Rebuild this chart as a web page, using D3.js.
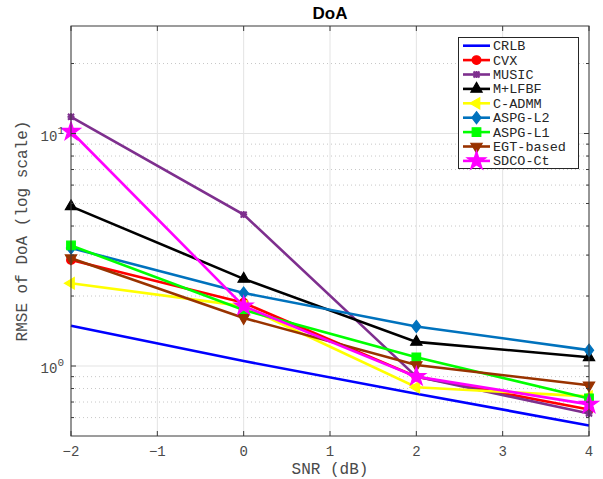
<!DOCTYPE html>
<html><head><meta charset="utf-8">
<script src="https://cdn.jsdelivr.net/npm/d3@7"></script>
<style>body{margin:0;background:#fff}svg{display:block}</style>
</head><body>
<div id="chart"></div>
<script>
const snr = [-2, 0, 2, 4];
const xTicks = [-2, -1, 0, 1, 2, 3, 4];
const yMajorTicks = [1, 10];
const seriesNames = ["CRLB","CVX","MUSIC","M+LFBF","C-ADMM","ASPG-L2","ASPG-L1","EGT-based","SDCO-Ct"];
const crlb   = [1.49, 1.05, 0.76, 0.555];
const cvx    = [2.86, 1.87, 0.90, 0.65];
const music  = [11.8, 4.48, 0.90, 0.625];
const mlfbf  = [4.86, 2.37, 1.27, 1.09];
const cadmm  = [2.27, 1.81, 0.81, 0.74];
const aspgL2 = [3.22, 2.06, 1.48, 1.17];
const aspgL1 = [3.30, 1.74, 1.09, 0.725];
const egt    = [2.91, 1.61, 1.01, 0.826];
const sdco   = [10.2, 1.81, 0.90, 0.684];
const seriesValues = [crlb, cvx, music, mlfbf, cadmm, aspgL2, aspgL1, egt, sdco];
const colors  = ["#0000ff","#ff0000","#7e2f8e","#000000","#ffff00","#0072bd","#00ff00","#993300","#ff00ff"];
const markers = ["none","circle","times","triUp","triLeft","diamond","square","triDown","star"];

const W = 603, H = 479;
const L = 71, R = 589, T = 26, B = 436;
const mono = "'Liberation Mono', 'DejaVu Sans Mono', monospace";
const svg = d3.select("#chart").append("svg").attr("width", W).attr("height", H);
const x = d3.scaleLinear().domain([-2, 4]).range([L, R]);
const y = d3.scaleLog().domain([0.5, 29]).range([B, T]);

// grid
const g = svg.append("g");
const minor = [];
[0.1, 1, 10].forEach(d => { for (let k = 2; k <= 9; k++) { const v = d * k; if (v > 0.5 && v < 29 && v !== 1 && v !== 10) minor.push(v); } });
g.selectAll(".mg").data(minor).join("line")
  .attr("x1", L).attr("x2", R).attr("y1", d => y(d)).attr("y2", d => y(d))
  .attr("stroke", "#c8c8c8").attr("stroke-width", 1).attr("stroke-dasharray", "1,3");
g.selectAll(".yg").data(yMajorTicks).join("line")
  .attr("x1", L).attr("x2", R).attr("y1", d => y(d)).attr("y2", d => y(d))
  .attr("stroke", "#e3e3e3").attr("stroke-width", 1);
g.selectAll(".xg").data(xTicks).join("line")
  .attr("x1", d => x(d)).attr("x2", d => x(d)).attr("y1", T).attr("y2", B)
  .attr("stroke", "#e3e3e3").attr("stroke-width", 1);

// markers
function markerPath(type) {
  const p = d3.path();
  if (type === "circle") { return d3.symbol(d3.symbolCircle, 60)(); }
  if (type === "star") { return d3.symbol(d3.symbolStar, 110)(); }
  if (type === "square") { return "M-4.3,-4.3H4.3V4.3H-4.3Z"; }
  if (type === "diamond") { return "M0,-6L4.6,0L0,6L-4.6,0Z"; }
  if (type === "times") { return "M-3,-3L3,3M-3,3L3,-3M0,-3.5V3.5M-3.5,0H3.5"; }
  const r = 6.5;
  let pts = [[0,-r],[r*0.866,r*0.5],[-r*0.866,r*0.5]];
  let ang = type === "triLeft" ? -Math.PI/2 : type === "triDown" ? Math.PI : 0;
  pts = pts.map(([a,b]) => [a*Math.cos(ang)-b*Math.sin(ang), a*Math.sin(ang)+b*Math.cos(ang)]);
  return "M" + pts.map(q => q.join(",")).join("L") + "Z";
}
function drawMarker(sel, type, color) {
  if (type === "none") return;
  sel.append("path").attr("d", markerPath(type))
    .attr("fill", type === "times" ? "none" : color)
    .attr("stroke", color).attr("stroke-width", type === "times" ? 2 : 1.2)
    .attr("stroke-linejoin", "miter");
}

const line = d3.line().x((d, i) => x(snr[i])).y(d => y(d));
const plot = svg.append("g");
seriesValues.forEach((vals, si) => {
  plot.append("path").datum(vals).attr("d", line)
    .attr("fill", "none").attr("stroke", colors[si]).attr("stroke-width", 2.6);
  vals.forEach((v, i) => {
    const mg = plot.append("g").attr("transform", `translate(${x(snr[i])},${y(v)})`);
    drawMarker(mg, markers[si], colors[si]);
  });
});

// axes box & ticks
const ax = svg.append("g").attr("stroke", "#3a3a3a").attr("stroke-width", 1);
ax.append("rect").attr("x", L).attr("y", T).attr("width", R - L).attr("height", B - T).attr("fill", "none");
xTicks.forEach(t => {
  ax.append("line").attr("x1", x(t)).attr("x2", x(t)).attr("y1", B).attr("y2", B - 5);
  ax.append("line").attr("x1", x(t)).attr("x2", x(t)).attr("y1", T).attr("y2", T + 5);
});
yMajorTicks.forEach(t => {
  ax.append("line").attr("x1", L).attr("x2", L + 5).attr("y1", y(t)).attr("y2", y(t));
  ax.append("line").attr("x1", R).attr("x2", R - 5).attr("y1", y(t)).attr("y2", y(t));
});
minor.forEach(t => {
  ax.append("line").attr("x1", L).attr("x2", L + 3).attr("y1", y(t)).attr("y2", y(t));
  ax.append("line").attr("x1", R).attr("x2", R - 3).attr("y1", y(t)).attr("y2", y(t));
});

// tick labels
const tc = "#4a4a4a";
svg.append("g").selectAll("text").data(xTicks).join("text")
  .attr("x", d => x(d)).attr("y", 456).attr("text-anchor", "middle")
  .attr("font-family", mono).attr("font-size", 14).attr("fill", tc)
  .text(d => d < 0 ? "\u2212" + Math.abs(d) : d);
yMajorTicks.forEach(t => {
  const tx = svg.append("text").attr("x", 64).attr("y", y(t) + 7).attr("text-anchor", "end")
    .attr("font-family", mono).attr("font-size", 14).attr("fill", tc);
  tx.append("tspan").text("10");
  tx.append("tspan").attr("dy", -7).attr("font-size", 11).text(Math.round(Math.log10(t)));
});

// axis labels
svg.append("text").attr("x", (L + R) / 2).attr("y", 474).attr("text-anchor", "middle")
  .attr("font-family", mono).attr("font-size", 16).attr("fill", tc).text("SNR (dB)");
svg.append("text").attr("transform", `translate(27,${(T + B) / 2}) rotate(-90)`).attr("text-anchor", "middle")
  .attr("font-family", mono).attr("font-size", 16).attr("fill", tc).text("RMSE of DoA (log scale)");
svg.append("text").attr("x", (L + R) / 2).attr("y", 19).attr("text-anchor", "middle")
  .attr("font-family", "'Liberation Sans', Arial, sans-serif").attr("font-weight", "bold")
  .attr("font-size", 17).attr("fill", "#000").text("DoA");

// legend
const lg = svg.append("g");
lg.append("rect").attr("x", 458.5).attr("y", 37.5).attr("width", 120).attr("height", 131)
  .attr("fill", "#fff").attr("stroke", "#262626").attr("stroke-width", 1);
seriesNames.forEach((name, i) => {
  const yy = 45.7 + i * 14.4;
  lg.append("line").attr("x1", 463).attr("x2", 490).attr("y1", yy).attr("y2", yy)
    .attr("stroke", colors[i]).attr("stroke-width", 2.6);
  drawMarker(lg.append("g").attr("transform", `translate(476.5,${yy})`), markers[i], colors[i]);
  lg.append("text").attr("x", 493).attr("y", yy + 4.5).attr("font-family", mono)
    .attr("font-size", 13.5).attr("fill", "#262626").text(name);
});
</script>
</body></html>
